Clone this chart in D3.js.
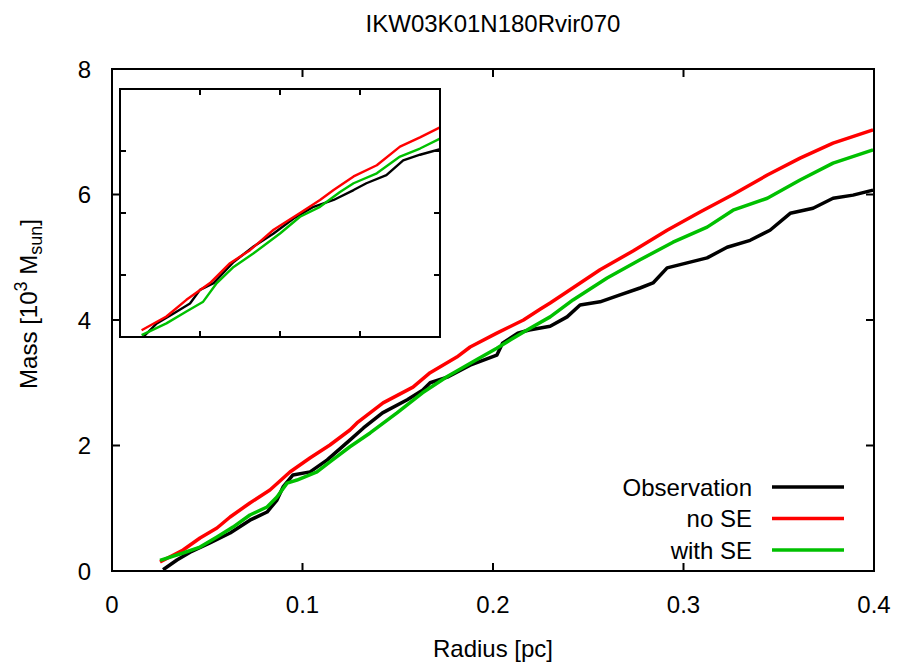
<!DOCTYPE html>
<html>
<head>
<meta charset="utf-8">
<script src="https://cdn.jsdelivr.net/npm/d3@7"></script>
<style>
  body { margin: 0; background: #fff; }
  text { font-family: "Liberation Sans", Arial, sans-serif; fill: #000; }
</style>
</head>
<body>
<div id="chart"></div>
<script>
// data
const TITLE = "IKW03K01N180Rvir070";
const xTicks = [0, 0.1, 0.2, 0.3, 0.4];
const yTicks = [0, 2, 4, 6, 8];
const seriesNames = ["Observation", "no SE", "with SE"];
const seriesColors = ["#000000", "#ff0000", "#00c000"];

const obsR = [0.0268, 0.0341, 0.041, 0.0514, 0.062, 0.0724, 0.0814, 0.0866, 0.0898, 0.095, 0.104, 0.113, 0.125, 0.132, 0.142, 0.155, 0.163, 0.167, 0.176, 0.188, 0.202, 0.205, 0.213, 0.219, 0.230, 0.2389, 0.2457, 0.2562, 0.2667, 0.2772, 0.284, 0.2914, 0.3019, 0.3124, 0.3229, 0.335, 0.3454, 0.356, 0.368, 0.3785, 0.389, 0.3995];
const obsM = [0.02, 0.175, 0.30, 0.446, 0.605, 0.81, 0.94, 1.13, 1.34, 1.53, 1.58, 1.77, 2.09, 2.28, 2.52, 2.73, 2.88, 3.0, 3.09, 3.28, 3.44, 3.63, 3.79, 3.84, 3.90, 4.05, 4.24, 4.29, 4.40, 4.51, 4.59, 4.83, 4.91, 4.99, 5.16, 5.27, 5.43, 5.70, 5.78, 5.94, 5.99, 6.07];

const noseR = [0.0252, 0.0373, 0.0462, 0.0551, 0.0620, 0.0724, 0.0829, 0.0934, 0.1039, 0.1144, 0.1249, 0.1286, 0.1423, 0.158, 0.167, 0.181, 0.188, 0.202, 0.216, 0.2247, 0.230, 0.2389, 0.2562, 0.2735, 0.2914, 0.3087, 0.326, 0.344, 0.3612, 0.3785, 0.3995];
const noseM = [0.143, 0.335, 0.526, 0.685, 0.861, 1.084, 1.291, 1.578, 1.801, 2.008, 2.247, 2.36, 2.68, 2.93, 3.16, 3.41, 3.57, 3.79, 4.0, 4.17, 4.27, 4.45, 4.80, 5.10, 5.43, 5.72, 6.00, 6.31, 6.58, 6.82, 7.03];

const withR = [0.0252, 0.0373, 0.0462, 0.0551, 0.0635, 0.0724, 0.0814, 0.0866, 0.0919, 0.0971, 0.1076, 0.1144, 0.1249, 0.1355, 0.1496, 0.163, 0.176, 0.192, 0.202, 0.209, 0.219, 0.230, 0.242, 0.2599, 0.2772, 0.2945, 0.3124, 0.326, 0.344, 0.3612, 0.3785, 0.3995];
const withM = [0.17, 0.287, 0.382, 0.542, 0.70, 0.892, 1.02, 1.18, 1.40, 1.45, 1.58, 1.74, 1.98, 2.20, 2.52, 2.84, 3.10, 3.38, 3.55, 3.68, 3.86, 4.05, 4.32, 4.67, 4.96, 5.24, 5.48, 5.75, 5.94, 6.23, 6.50, 6.71];

// inset: unlabeled axes, values in tick units (4 divisions each way)
const insetObsU = [0.29, 0.46, 0.67, 0.875, 1.0, 1.17, 1.42, 1.67, 1.92, 2.17, 2.42, 2.67, 2.92, 3.08, 3.33, 3.54, 3.75, 4.0];
const insetObsV = [0.0, 0.22, 0.38, 0.54, 0.76, 0.87, 1.21, 1.46, 1.67, 1.91, 2.10, 2.21, 2.37, 2.48, 2.61, 2.85, 2.94, 3.03];
const insetNoseU = [0.27, 0.58, 0.83, 1.125, 1.375, 1.625, 1.92, 2.25, 2.5, 2.67, 2.92, 3.21, 3.5, 3.75, 4.0];
const insetNoseV = [0.11, 0.33, 0.60, 0.87, 1.19, 1.40, 1.73, 2.0, 2.21, 2.37, 2.59, 2.77, 3.07, 3.22, 3.38];
const insetWithU = [0.27, 0.58, 0.83, 1.04, 1.21, 1.42, 1.67, 2.0, 2.25, 2.5, 2.75, 2.92, 3.21, 3.5, 3.75, 4.0];
const insetWithV = [0.03, 0.22, 0.41, 0.57, 0.87, 1.13, 1.35, 1.67, 1.94, 2.10, 2.34, 2.48, 2.64, 2.91, 3.04, 3.20];
const insetTicks = [1, 2, 3];

const W = 906, H = 666;
const M = {left: 112, right: 874, top: 69, bottom: 571};
const INSET = {left: 120, right: 440, top: 89, bottom: 337};

const svg = d3.select("#chart").append("svg").attr("width", W).attr("height", H);

const x = d3.scaleLinear().domain([0, 0.4]).range([M.left, M.right]);
const y = d3.scaleLinear().domain([0, 8]).range([M.bottom, M.top]);

const zip = (a, b) => a.map((v, i) => [v, b[i]]);
const mainSeries = [zip(obsR, obsM), zip(noseR, noseM), zip(withR, withM)];
const insetSeries = [zip(insetObsU, insetObsV), zip(insetNoseU, insetNoseV), zip(insetWithU, insetWithV)];

svg.append("text").attr("x", (M.left + M.right) / 2).attr("y", 32)
  .attr("text-anchor", "middle").style("font-size", "24px").text(TITLE);

// main curves
svg.append("clipPath").attr("id", "clipMain").append("rect")
  .attr("x", M.left).attr("y", M.top).attr("width", M.right - M.left).attr("height", M.bottom - M.top);

const line = d3.line().x(d => x(d[0])).y(d => y(d[1]));
svg.append("g").attr("clip-path", "url(#clipMain)")
  .selectAll("path").data(mainSeries).enter().append("path")
  .attr("d", line).attr("fill", "none")
  .attr("stroke", (d, i) => seriesColors[i]).attr("stroke-width", 3.5)
  .attr("stroke-linejoin", "round");

// frame and inward ticks on all sides
svg.append("rect").attr("x", M.left).attr("y", M.top)
  .attr("width", M.right - M.left).attr("height", M.bottom - M.top)
  .attr("fill", "none").attr("stroke", "#000").attr("stroke-width", 2);

const tl = 8;
const tickG = svg.append("g").attr("stroke", "#000").attr("stroke-width", 2);
xTicks.slice(1, -1).forEach(t => {
  tickG.append("line").attr("x1", x(t)).attr("x2", x(t)).attr("y1", M.bottom).attr("y2", M.bottom - tl);
  tickG.append("line").attr("x1", x(t)).attr("x2", x(t)).attr("y1", M.top).attr("y2", M.top + tl);
});
yTicks.slice(1, -1).forEach(t => {
  tickG.append("line").attr("x1", M.left).attr("x2", M.left + tl).attr("y1", y(t)).attr("y2", y(t));
  tickG.append("line").attr("x1", M.right).attr("x2", M.right - tl).attr("y1", y(t)).attr("y2", y(t));
});

svg.selectAll(".xl").data(xTicks).enter().append("text")
  .attr("x", d => x(d)).attr("y", 613).attr("text-anchor", "middle")
  .style("font-size", "24px").text(d => d3.format("")(d));
svg.selectAll(".yl").data(yTicks).enter().append("text")
  .attr("x", 91).attr("y", d => y(d) + 8.5).attr("text-anchor", "end")
  .style("font-size", "24px").text(d => d);

svg.append("text").attr("x", (M.left + M.right) / 2).attr("y", 657)
  .attr("text-anchor", "middle").style("font-size", "24px").text("Radius [pc]");

const yl = svg.append("text").attr("transform", "translate(37,304) rotate(-90)")
  .attr("text-anchor", "middle").style("font-size", "24px");
yl.append("tspan").text("Mass [10");
yl.append("tspan").attr("dy", -10).style("font-size", "18px").text("3");
yl.append("tspan").attr("dy", 10).text(" M");
yl.append("tspan").attr("dy", 5).style("font-size", "18px").text("sun");
yl.append("tspan").attr("dy", -5).text("]");

// inset
const ix = d3.scaleLinear().domain([0, 4]).range([INSET.left, INSET.right]);
const iy = d3.scaleLinear().domain([0, 4]).range([INSET.bottom, INSET.top]);

svg.append("rect").attr("x", INSET.left).attr("y", INSET.top)
  .attr("width", INSET.right - INSET.left).attr("height", INSET.bottom - INSET.top)
  .attr("fill", "#fff").attr("stroke", "none");

svg.append("clipPath").attr("id", "clipInset").append("rect")
  .attr("x", INSET.left).attr("y", INSET.top).attr("width", INSET.right - INSET.left).attr("height", INSET.bottom - INSET.top);

const iline = d3.line().x(d => ix(d[0])).y(d => iy(d[1]));
svg.append("g").attr("clip-path", "url(#clipInset)")
  .selectAll("path").data(insetSeries).enter().append("path")
  .attr("d", iline).attr("fill", "none")
  .attr("stroke", (d, i) => seriesColors[i]).attr("stroke-width", 2.4)
  .attr("stroke-linejoin", "round");

svg.append("rect").attr("x", INSET.left).attr("y", INSET.top)
  .attr("width", INSET.right - INSET.left).attr("height", INSET.bottom - INSET.top)
  .attr("fill", "none").attr("stroke", "#000").attr("stroke-width", 2);

const itl = 6;
insetTicks.forEach(t => {
  tickG.append("line").attr("x1", ix(t)).attr("x2", ix(t)).attr("y1", INSET.bottom).attr("y2", INSET.bottom - itl);
  tickG.append("line").attr("x1", ix(t)).attr("x2", ix(t)).attr("y1", INSET.top).attr("y2", INSET.top + itl);
  tickG.append("line").attr("x1", INSET.left).attr("x2", INSET.left + itl).attr("y1", iy(t)).attr("y2", iy(t));
  tickG.append("line").attr("x1", INSET.right).attr("x2", INSET.right - itl).attr("y1", iy(t)).attr("y2", iy(t));
});
tickG.raise();

// legend
const legend = svg.append("g");
seriesNames.forEach((name, i) => {
  const ly = 487 + i * 31.5;
  legend.append("text").attr("x", 752).attr("y", ly + 8.5).attr("text-anchor", "end")
    .style("font-size", "24px").text(name);
  legend.append("line").attr("x1", 772).attr("x2", 844).attr("y1", ly).attr("y2", ly)
    .attr("stroke", seriesColors[i]).attr("stroke-width", 3.5);
});
</script>
</body>
</html>
